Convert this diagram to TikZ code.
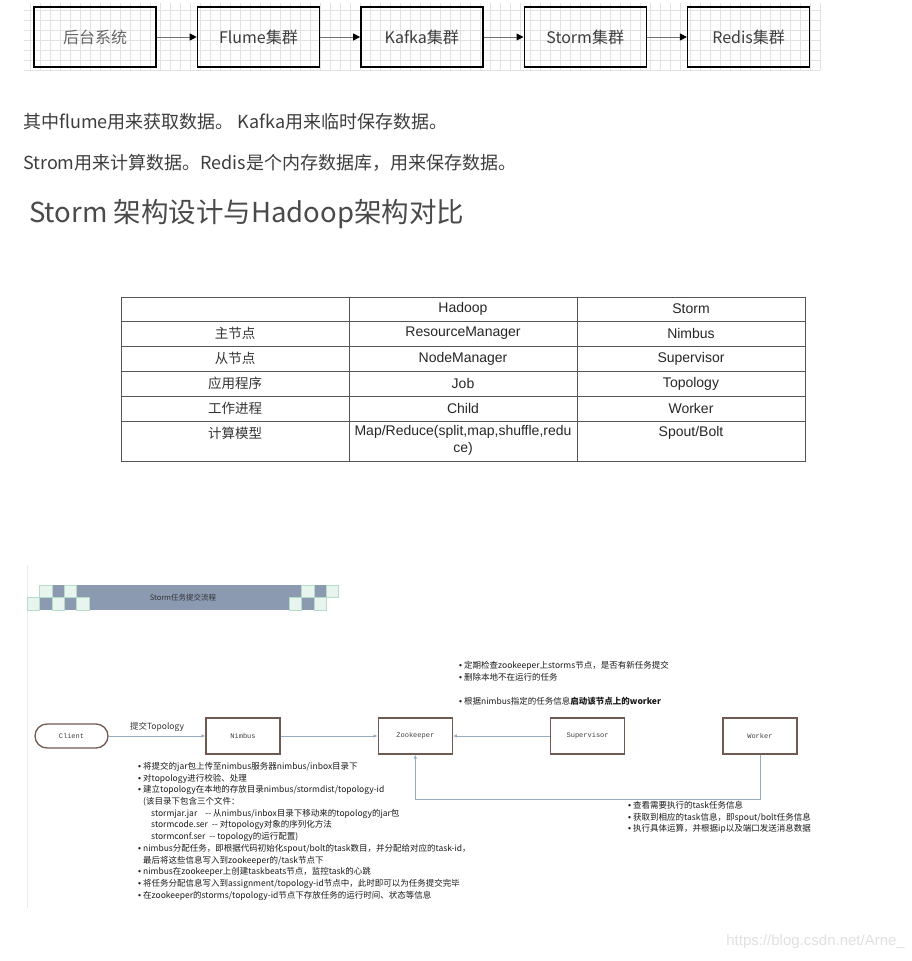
\documentclass[tikz,border=0pt]{standalone}
\usepackage{fontspec}
\setmainfont{Noto Sans CJK SC}
\newfontfamily\arialfont{Liberation Sans}
\newfontfamily\monofont{Liberation Mono}
\usepackage{tikz}
\usetikzlibrary{arrows.meta,positioning}
\usepackage{xcolor}
\definecolor{txtgray}{HTML}{3D3D3D}
\definecolor{headgray}{HTML}{4A4A4A}
\definecolor{gridgray}{HTML}{E2E2E2}
\definecolor{tablegray}{HTML}{555555}
\definecolor{barblue}{HTML}{8B9AB1}
\definecolor{mint}{HTML}{E8F5EF}
\definecolor{mintline}{HTML}{B3DDC8}
\definecolor{boxbrown}{HTML}{6E5A52}
\definecolor{linkblue}{HTML}{98ACC0}
\newcommand{\bul}{{\arialfont\textbullet}\hspace{2pt}}

\begin{document}
\begin{tikzpicture}[x=1pt,y=-1pt,
  flowbox/.style={draw=black,line width=1.4pt,minimum width=122pt,minimum height=60pt,inner sep=0pt,
    font=\fontsize{16}{18}\selectfont,text=txtgray},
  flowarrow/.style={black!55,line width=1pt,-{Triangle[length=7pt,width=7pt,color=black]}},
  para/.style={anchor=west,inner sep=0pt,text=txtgray,font=\fontsize{18}{20}\selectfont},
  tcell/.style={inner sep=0pt,text=black!85,font=\arialfont\fontsize{14}{17}\selectfont},
  tcn/.style={inner sep=0pt,text=black!80,font=\fontsize{13.5}{16}\selectfont},
  stagebox/.style={draw=boxbrown,line width=1.3pt,minimum width=74pt,minimum height=36pt,inner sep=0pt,
    font=\monofont\fontsize{7}{8}\selectfont,text=black!75},
  link/.style={linkblue,line width=0.8pt},
  notes/.style={anchor=north west,align=left,inner sep=0pt,text=black!90,font=\fontsize{8.5}{11.7}\selectfont}]
  \useasboundingbox (0,0) rectangle (911,961);

  % pipeline on a grid
  \draw[gridgray,step=10pt] (24,3) grid (820,70);
  \node[flowbox,text=black!60] (back) at (95,37) {后台系统};
  \node[flowbox,right=40pt of back] (flume) {Flume集群};
  \node[flowbox,right=40pt of flume] (kafka) {Kafka集群};
  \node[flowbox,right=40pt of kafka] (storm) {Storm集群};
  \node[flowbox,right=40pt of storm] (redis) {Redis集群};
  \draw[flowarrow] (back) -- (flume);
  \draw[flowarrow] (flume) -- (kafka);
  \draw[flowarrow] (kafka) -- (storm);
  \draw[flowarrow] (storm) -- (redis);

  \node[para] (line1) at (23,122) {其中flume用来获取数据。 Kafka用来临时保存数据。};
  \node[para] (line2) at (23,163) {Strom用来计算数据。Redis是个内存数据库，用来保存数据。};
  \node[para,text=headgray,font=\fontsize{27.5}{30}\selectfont] (title) at (29,214) {Storm 架构设计与Hadoop架构对比};

  % comparison table
  \draw[tablegray,line width=0.8pt] (121,297) rectangle (805,461);
  \foreach \yy in {321.5,346.5,371.5,396.5,421} \draw[tablegray,line width=0.8pt] (121,\yy) -- (805,\yy);
  \foreach \xx in {349,577} \draw[tablegray,line width=0.8pt] (\xx,297) -- (\xx,461);
  \node[tcell] (hadoop) at (463,309) {Hadoop}; \node[tcell] (stormh) at (691,309) {Storm};
  \node[tcn] (master) at (235,333.5) {主节点}; \node[tcell] (rm) at (463,333.5) {ResourceManager}; \node[tcell] (nimb) at (691,333.5) {Nimbus};
  \node[tcn] (slave) at (235,358.5) {从节点}; \node[tcell] (nm) at (463,358.5) {NodeManager}; \node[tcell] (supv) at (691,358.5) {Supervisor};
  \node[tcn] (app) at (235,383.5) {应用程序}; \node[tcell] (job) at (463,383.5) {Job}; \node[tcell] (topo) at (691,383.5) {Topology};
  \node[tcn] (proc) at (235,408.5) {工作进程}; \node[tcell] (child) at (463,408.5) {Child}; \node[tcell] (wk) at (691,408.5) {Worker};
  \node[tcn] (model) at (235,433) {计算模型};
  \node[tcell,align=center,anchor=north] (mr) at (463,425) {Map/Reduce(split,map,shuffle,redu\\ce)};
  \node[tcell] (sb) at (691,433) {Spout/Bolt};

  % storm submit flow
  \draw[black!8,line width=1pt] (27,565) -- (27,908);
  \fill[barblue] (52,585) rectangle (326,610);
  \fill[barblue] (39.5,597.5) rectangle ++(12.5,12.5);
  \foreach \sx/\sy in {39.5/585,64/585,301.5/585,326/585,27/597.5,52/597.5,76.5/597.5,289/597.5,314/597.5}
    \draw[mintline,fill=mint,line width=0.6pt] (\sx,\sy) rectangle ++(12.3,12.5);
  \node[inner sep=0pt,text=black!80,font=\fontsize{7.5}{8}\selectfont] (banner) at (183,597.5) {Storm任务提交流程};

  \node[stagebox,minimum width=73pt,minimum height=24pt,rounded corners=12pt] (client) at (71.5,736) {Client};
  \node[stagebox] (nimbus) at (243,736) {Nimbus};
  \node[stagebox,right=97pt of nimbus] (zk) {Zookeeper};
  \node[stagebox,right=97pt of zk] (sup) {Supervisor};
  \node[stagebox,right=97pt of sup] (worker) {Worker};
  \draw[link,-{Latex[length=4pt,width=3.5pt]}] (client) -- node[above=1pt,text=black!80,font=\fontsize{8.5}{9}\selectfont] {提交Topology} (nimbus);
  \draw[link,-{Latex[length=4pt,width=3.5pt]}] (nimbus) -- (zk);
  \draw[link,-{Latex[length=4pt,width=3.5pt]}] (sup) -- (zk);
  \draw[link,-{Latex[length=4pt,width=3.5pt]}] (worker.south) -- (worker.south |- 0,799) -| (zk.south);

  \node[notes] (supnotes) at (459,661.5) {\bul 定期检查zookeeper上storms节点，是否有新任务提交\\
    \bul 删除本地不在运行的任务\\[11.7pt]
    \bul 根据nimbus指定的任务信息\textbf{启动该节点上的worker}};
  \node[notes] (nimbusnotes) at (138,762) {\bul 将提交的jar包上传至nimbus服务器nimbus/inbox目录下\\
    \bul 对topology进行校验、处理\\
    \bul 建立topology在本地的存放目录nimbus/stormdist/topology-id\\
    \hspace*{5pt}(该目录下包含三个文件：\\
    \hspace*{13pt}stormjar.jar\hspace*{8pt}-{}- 从nimbus/inbox目录下移动来的topology的jar包\\
    \hspace*{13pt}stormcode.ser\hspace*{4pt}-{}- 对topology对象的序列化方法\\
    \hspace*{13pt}stormconf.ser\hspace*{4pt}-{}- topology的运行配置)\\
    \bul nimbus分配任务，即根据代码初始化spout/bolt的task数目，并分配给对应的task-id，\\
    \hspace*{5pt}最后将这些信息写入到zookeeper的/task节点下\\
    \bul nimbus在zookeeper上创建taskbeats节点，监控task的心跳\\
    \bul 将任务分配信息写入到assignment/topology-id节点中，此时即可以为任务提交完毕\\
    \bul 在zookeeper的storms/topology-id节点下存放任务的运行时间、状态等信息};
  \node[notes] (workernotes) at (628,801) {\bul 查看需要执行的task任务信息\\
    \bul 获取到相应的task信息，即spout/bolt任务信息\\
    \bul 执行具体运算，并根据ip以及端口发送消息数据};

  \node[anchor=east,inner sep=0pt,text=black!12,font=\arialfont\fontsize{15}{17}\selectfont] (mark) at (905,942) {https://blog.csdn.net/Arne\_};
\end{tikzpicture}
\end{document}
